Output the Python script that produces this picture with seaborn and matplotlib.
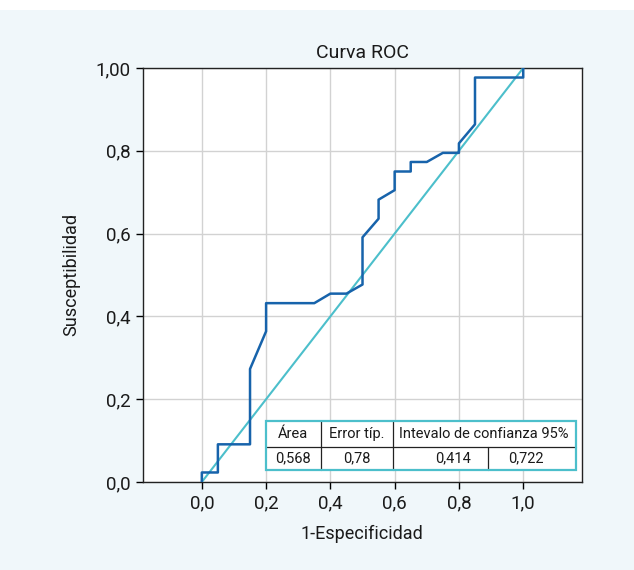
import matplotlib
matplotlib.use("Agg")
import matplotlib.pyplot as plt
import seaborn as sns
import pandas as pd
from matplotlib.patches import Rectangle

# ---- data ----
roc_fpr = [0.0, 0.0, 0.05, 0.05, 0.15, 0.15, 0.20, 0.20, 0.35, 0.40, 0.45, 0.50, 0.50,
           0.55, 0.55, 0.60, 0.60, 0.65, 0.65, 0.70, 0.75, 0.80, 0.80, 0.85, 0.85, 1.0, 1.0]
roc_tpr = [0.0, 0.023, 0.023, 0.091, 0.091, 0.273, 0.364, 0.432, 0.432, 0.455, 0.455, 0.477, 0.591,
           0.636, 0.682, 0.705, 0.750, 0.750, 0.773, 0.773, 0.795, 0.795, 0.818, 0.864, 0.977, 0.977, 1.0]
ref_x = [0.0, 1.0]
ref_y = [0.0, 1.0]

xticks = [0.0, 0.2, 0.4, 0.6, 0.8, 1.0]
xtick_labels = ["0,0", "0,2", "0,4", "0,6", "0,8", "1,0"]
yticks = [0.0, 0.2, 0.4, 0.6, 0.8, 1.0]
ytick_labels = ["0,0", "0,2", "0,4", "0,6", "0,8", "1,00"]

table_header = ["Área", "Error típ.", "Intevalo de confianza 95%"]
table_values = ["0,568", "0,78", "0,414", "0,722"]

title = "Curva ROC"
xlabel = "1-Especificidad"
ylabel = "Susceptibilidad"

# ---- style ----
sns.set_theme(style="whitegrid")
plt.rcParams["font.family"] = ["Roboto", "DejaVu Sans"]

BG = "#f0f7fa"
ROC_C = "#1763ab"
REF_C = "#4cbfcb"
TXT = "#1a1a1a"

fig = plt.figure(figsize=(6.34, 5.70), dpi=100, facecolor=BG)
fig.patches.append(Rectangle((0, 1 - 10 / 570), 1, 10 / 570, transform=fig.transFigure,
                             facecolor="white", edgecolor="none", zorder=-1))
ax = fig.add_axes([143 / 634, 1 - 482 / 570, (581.7 - 143) / 634, (482 - 68) / 570])
ax.set_facecolor("white")

df_roc = pd.DataFrame({"fpr": roc_fpr, "tpr": roc_tpr})
df_ref = pd.DataFrame({"x": ref_x, "y": ref_y})
sns.lineplot(data=df_ref, x="x", y="y", ax=ax, color=REF_C, lw=1.5, sort=False, estimator=None, zorder=3)
sns.lineplot(data=df_roc, x="fpr", y="tpr", ax=ax, color=ROC_C, lw=1.8, sort=False, estimator=None, zorder=4)

ax.set_xlim(-0.183, 1.182)
ax.set_ylim(0, 1.0)
ax.set_xticks(xticks)
ax.set_xticklabels(xtick_labels)
ax.set_yticks(yticks)
ax.set_yticklabels(ytick_labels)
ax.grid(True, color="#d2d2d2", lw=1.0)
ax.tick_params(axis="both", which="both", direction="out", length=5, width=1, color="black",
               labelsize=13.5, labelcolor=TXT, left=True, bottom=True, pad=4)
for s in ax.spines.values():
    s.set_visible(True)
    s.set_color("#222222")
    s.set_linewidth(1.0)

ax.set_title(title, fontsize=14, color=TXT, pad=7)
ax.set_xlabel(xlabel, fontsize=13, color=TXT, labelpad=9)
ax.set_ylabel(ylabel, fontsize=13, color=TXT, labelpad=11)

# ---- table (axes-pixel based) ----
W = 581.7 - 143
H = 482 - 68
def fx(px):
    return (px - 143) / W
def fy(py):
    return (482 - py) / H

tl, tr, tt, tb = 265.7, 575.7, 421, 470
mid = 446.7
c1, c2, c3 = 320.7, 392.7, 488.3
ax.add_patch(Rectangle((fx(tl), fy(tb)), fx(tr) - fx(tl), fy(tt) - fy(tb), facecolor="white",
                       edgecolor="none", transform=ax.transAxes, zorder=6))
lk = dict(color="#222222", lw=0.9, transform=ax.transAxes, zorder=7)
ax.plot([fx(tl), fx(tr)], [fy(mid), fy(mid)], **lk)
ax.plot([fx(c1), fx(c1)], [fy(tt), fy(tb)], **lk)
ax.plot([fx(c2), fx(c2)], [fy(tt), fy(tb)], **lk)
ax.plot([fx(c3), fx(c3)], [fy(mid), fy(tb)], **lk)
ax.add_patch(Rectangle((fx(tl), fy(tb)), fx(tr) - fx(tl), fy(tt) - fy(tb), facecolor="none",
                       edgecolor=REF_C, lw=1.6, transform=ax.transAxes, zorder=8))

tk = dict(transform=ax.transAxes, fontsize=10.5, color=TXT, ha="center", va="center", zorder=9)
hy = fy((tt + mid) / 2)
vy = fy((mid + tb) / 2)
ax.text(fx((tl + c1) / 2), hy, table_header[0], **tk)
ax.text(fx((c1 + c2) / 2), hy, table_header[1], **tk)
ax.text(fx((c2 + tr) / 2), hy, table_header[2], **tk)
ax.text(fx((tl + c1) / 2), vy, table_values[0], **tk)
ax.text(fx((c1 + c2) / 2), vy, table_values[1], **tk)
ax.text(fx(453), vy, table_values[2], **tk)
ax.text(fx(526), vy, table_values[3], **tk)

fig.savefig("out.png", dpi=100, facecolor=BG)
